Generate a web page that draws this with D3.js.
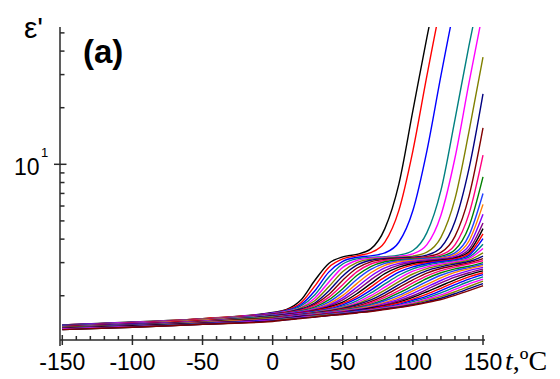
<!DOCTYPE html>
<html><head><meta charset="utf-8">
<script src="https://cdn.jsdelivr.net/npm/d3@7"></script>
<style>html,body{margin:0;padding:0;background:#fff;} svg{display:block;}</style>
</head><body>
<svg id="c" width="560" height="379"></svg>
<script>
// ---- data ----
const temps = [-150,-100,-50,0,10,20,30,40,50,60,70,80,90,100,110,120,130,140,150];
const curveColors = ["#000000","#ff0000","#0000ff","#008080","#ff00ff","#808000","#000080","#800000",
                     "#ff0080","#008000","#2040ff","#ff8000","#8000ff","#800080"];
const xTickLabels = [-150,-100,-50,0,50,100,150];
const xMinorTicks = [-140,-130,-120,-110,-90,-80,-70,-60,-40,-30,-20,-10,10,20,30,40,60,70,80,90,110,120,130,140];
const yMajorTicks = [10];
const yMinorTicks = [2,3,4,5,6,7,8,9,20,30,40,50];
const epsilonCurves = [
 [1.40,1.45,1.51,1.63,1.69,1.89,2.41,2.97,3.22,3.32,3.55,4.55,7.85,19.3,47.3,108,224,406,668],
 [1.40,1.44,1.51,1.62,1.68,1.83,2.25,2.83,3.14,3.26,3.39,3.86,5.69,11.8,29.6,71,155,302,521],
 [1.40,1.44,1.50,1.62,1.67,1.79,2.12,2.67,3.05,3.20,3.26,3.38,3.85,5.68,11.8,29.6,70.9,155,302],
 [1.39,1.44,1.50,1.61,1.66,1.76,2.02,2.51,2.95,3.14,3.20,3.23,3.29,3.48,4.33,7.27,17.3,42.8,99],
 [1.39,1.44,1.50,1.61,1.65,1.73,1.94,2.36,2.83,3.08,3.17,3.20,3.24,3.34,3.74,5.36,10.8,27.1,65.2],
 [1.39,1.43,1.50,1.60,1.64,1.72,1.88,2.23,2.69,3.00,3.13,3.17,3.21,3.25,3.41,4.09,6.55,14.9,37.2],
 [1.39,1.43,1.49,1.60,1.63,1.70,1.83,2.12,2.55,2.91,3.09,3.15,3.18,3.21,3.29,3.61,4.96,9.48,23.7],
 [1.38,1.43,1.49,1.59,1.63,1.68,1.80,2.03,2.42,2.80,3.03,3.12,3.15,3.18,3.23,3.40,4.14,6.75,15.6],
 [1.38,1.43,1.49,1.59,1.62,1.67,1.77,1.96,2.29,2.68,2.95,3.08,3.13,3.16,3.20,3.30,3.73,5.45,11.2],
 [1.38,1.42,1.48,1.58,1.61,1.66,1.74,1.90,2.18,2.56,2.86,3.03,3.10,3.14,3.17,3.24,3.51,4.67,8.57],
 [1.38,1.42,1.48,1.58,1.61,1.65,1.72,1.85,2.09,2.44,2.76,2.97,3.07,3.11,3.15,3.20,3.38,4.19,7.0],
 [1.37,1.42,1.48,1.57,1.60,1.64,1.70,1.81,2.01,2.32,2.65,2.90,3.03,3.08,3.12,3.17,3.31,3.91,6.12],
 [1.37,1.42,1.47,1.57,1.60,1.64,1.69,1.78,1.95,2.22,2.54,2.81,2.97,3.05,3.10,3.14,3.25,3.69,5.43],
 [1.37,1.41,1.47,1.56,1.59,1.63,1.68,1.76,1.90,2.13,2.43,2.72,2.91,3.01,3.07,3.12,3.20,3.53,4.87],
 [1.37,1.41,1.47,1.56,1.59,1.62,1.67,1.74,1.85,2.05,2.32,2.62,2.84,2.97,3.03,3.09,3.17,3.43,4.55],
 [1.37,1.41,1.47,1.55,1.58,1.62,1.66,1.72,1.82,1.98,2.23,2.51,2.76,2.92,3.00,3.06,3.14,3.35,4.27],
 [1.36,1.41,1.46,1.55,1.58,1.61,1.65,1.70,1.79,1.93,2.14,2.41,2.67,2.85,2.96,3.04,3.10,3.28,4.02],
 [1.36,1.40,1.46,1.55,1.57,1.60,1.64,1.69,1.76,1.88,2.07,2.31,2.57,2.78,2.91,3.00,3.07,3.21,3.76],
 [1.36,1.40,1.46,1.54,1.57,1.60,1.63,1.68,1.74,1.84,2.00,2.22,2.47,2.70,2.85,2.95,3.03,3.15,3.57],
 [1.36,1.40,1.45,1.54,1.56,1.59,1.63,1.67,1.73,1.81,1.95,2.14,2.38,2.61,2.79,2.90,2.99,3.09,3.38],
 [1.35,1.40,1.45,1.53,1.56,1.59,1.62,1.66,1.71,1.79,1.90,2.07,2.29,2.52,2.72,2.85,2.95,3.04,3.25],
 [1.35,1.39,1.45,1.53,1.55,1.58,1.61,1.65,1.70,1.76,1.86,2.01,2.21,2.43,2.64,2.79,2.89,2.99,3.15],
 [1.35,1.39,1.44,1.52,1.55,1.58,1.61,1.64,1.69,1.74,1.83,1.96,2.13,2.34,2.55,2.72,2.84,2.95,3.07],
 [1.35,1.39,1.44,1.52,1.54,1.57,1.60,1.63,1.68,1.73,1.80,1.91,2.07,2.26,2.47,2.65,2.78,2.87,3.00],
 [1.34,1.39,1.44,1.51,1.54,1.57,1.60,1.63,1.67,1.71,1.78,1.88,2.01,2.18,2.38,2.57,2.72,2.82,2.94],
 [1.34,1.38,1.44,1.51,1.53,1.56,1.59,1.62,1.66,1.70,1.76,1.84,1.96,2.12,2.30,2.49,2.66,2.78,2.89],
 [1.34,1.38,1.43,1.50,1.53,1.56,1.58,1.62,1.65,1.69,1.74,1.82,1.92,2.06,2.23,2.41,2.58,2.72,2.83],
 [1.34,1.38,1.43,1.50,1.52,1.55,1.58,1.61,1.64,1.68,1.73,1.79,1.88,2.00,2.16,2.34,2.51,2.65,2.77],
 [1.34,1.38,1.43,1.49,1.52,1.55,1.57,1.60,1.63,1.67,1.72,1.77,1.85,1.96,2.10,2.26,2.43,2.59,2.71],
 [1.33,1.37,1.42,1.49,1.51,1.54,1.57,1.60,1.63,1.66,1.70,1.76,1.83,1.92,2.04,2.19,2.36,2.52,2.65],
 [1.33,1.37,1.42,1.49,1.51,1.54,1.56,1.59,1.62,1.66,1.69,1.74,1.80,1.89,1.99,2.13,2.29,2.45,2.59],
 [1.33,1.37,1.42,1.48,1.51,1.53,1.56,1.59,1.62,1.65,1.68,1.73,1.78,1.86,1.95,2.07,2.22,2.38,2.52],
 [1.33,1.37,1.41,1.48,1.50,1.53,1.55,1.58,1.61,1.64,1.68,1.72,1.77,1.83,1.92,2.02,2.16,2.31,2.45],
 [1.32,1.36,1.41,1.47,1.50,1.52,1.55,1.58,1.60,1.63,1.67,1.71,1.75,1.81,1.89,1.98,2.10,2.24,2.39],
 [1.32,1.36,1.41,1.47,1.49,1.52,1.54,1.57,1.60,1.63,1.66,1.70,1.74,1.79,1.86,1.94,2.05,2.18,2.32],
 [1.32,1.36,1.41,1.46,1.49,1.51,1.54,1.57,1.59,1.62,1.65,1.69,1.73,1.78,1.84,1.91,2.01,2.13,2.26]
];

// ---- drawing ----
const svg = d3.select("#c");
const x = d3.scaleLinear().domain([-150,150]).range([62.3,483]);
const y = d3.scaleLog().domain([1.163,53.6]).range([340,27.2]);
const axisColor = "#2a2a2a";
const sans = "'Liberation Sans', Arial, sans-serif";
const serif = "'Liberation Serif', 'Times New Roman', serif";

svg.append("defs").append("clipPath").attr("id","plotClip")
  .append("rect").attr("x",60).attr("y",27).attr("width",424).attr("height",313);

const line = d3.line()
  .x((d,i)=>x(temps[i]))
  .y(d=>y(d))
  .curve(d3.curveMonotoneX);

svg.append("g").attr("clip-path","url(#plotClip)")
  .selectAll("path").data(epsilonCurves).join("path")
  .attr("d", line)
  .attr("fill","none")
  .attr("stroke",(d,i)=>curveColors[i % curveColors.length])
  .attr("stroke-width",1.4);

// axes lines
const ax = svg.append("g").attr("stroke",axisColor).attr("stroke-width",1.5);
ax.append("line").attr("x1",60).attr("x2",60).attr("y1",27).attr("y2",346);
ax.append("line").attr("x1",60).attr("x2",485).attr("y1",340).attr("y2",340);

// x ticks
ax.selectAll(".xmaj").data(xTickLabels).join("line")
  .attr("x1",d=>x(d)).attr("x2",d=>x(d)).attr("y1",335).attr("y2",345);
ax.selectAll(".xmin").data(xMinorTicks).join("line")
  .attr("x1",d=>x(d)).attr("x2",d=>x(d)).attr("y1",336).attr("y2",340);
// y ticks
ax.selectAll(".ymaj").data(yMajorTicks).join("line")
  .attr("x1",54).attr("x2",66.5).attr("y1",d=>y(d)).attr("y2",d=>y(d));
ax.selectAll(".ymin").data(yMinorTicks).join("line")
  .attr("x1",60).attr("x2",64.5).attr("y1",d=>y(d)).attr("y2",d=>y(d));

// x tick labels
svg.append("g").selectAll("text").data(xTickLabels).join("text")
  .attr("x",d=>x(d)).attr("y",370)
  .attr("text-anchor","middle")
  .attr("font-family",sans).attr("font-size",23).attr("fill","#000")
  .text(d=>d);

// y tick label 10^1
svg.append("text").attr("x",39.5).attr("y",y(10)+10.5).attr("text-anchor","end")
  .attr("font-family",sans).attr("font-size",23).attr("fill","#000").text("10");
svg.append("text").attr("x",41).attr("y",y(10)-7).attr("text-anchor","start")
  .attr("font-family",sans).attr("font-size",13).attr("fill","#000").text("1");

// axis titles
const xt = svg.append("text").attr("x",505).attr("y",370)
  .attr("font-family",serif).attr("font-size",28).attr("fill","#000");
xt.append("tspan").attr("font-style","italic").text("t");
xt.append("tspan").text(",ºC");

svg.append("text").attr("x",24).attr("y",38)
  .attr("font-family",sans).attr("font-size",30).attr("fill","#000").text("ε'");

svg.append("text").attr("x",83).attr("y",63)
  .attr("font-family",sans).attr("font-size",33).attr("font-weight","bold").attr("fill","#000").text("(a)");
</script>
</body></html>
